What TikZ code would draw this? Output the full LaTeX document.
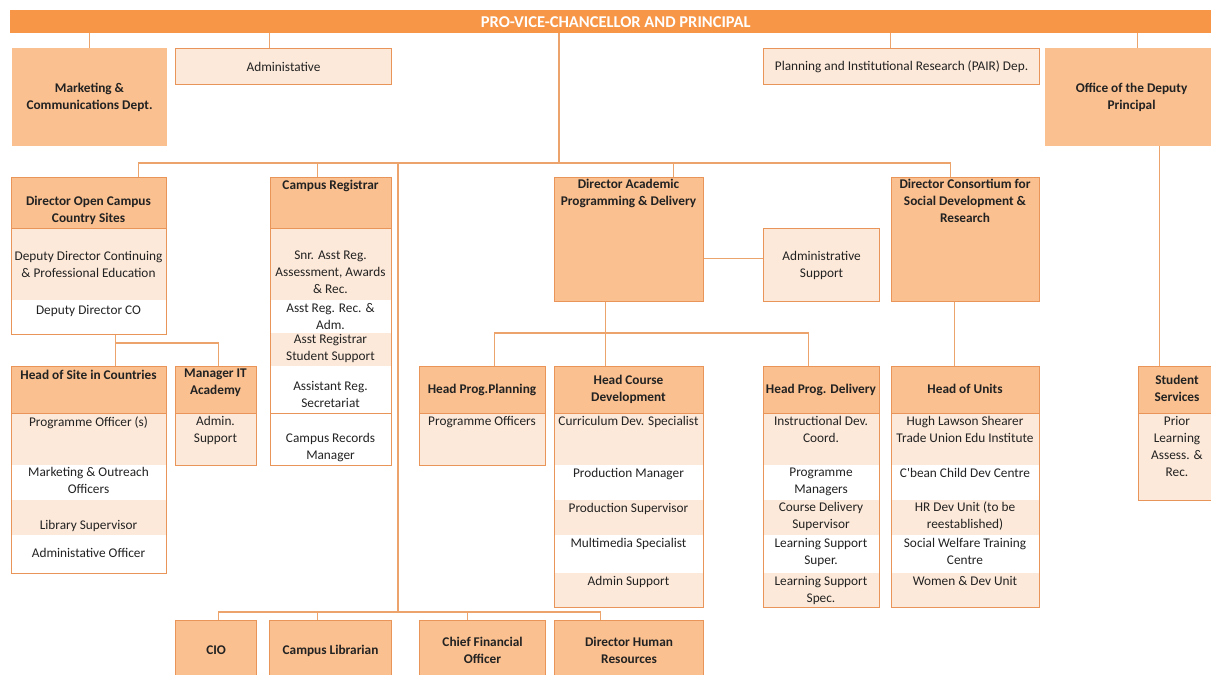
\documentclass[tikz,border=0pt]{standalone}
\usepackage{fontspec}
\setmainfont{Carlito}
\usetikzlibrary{calc}
\definecolor{barfill}{HTML}{F79646}
\definecolor{hdrfill}{HTML}{FAC090}
\definecolor{rowfill}{HTML}{FDE9D9}
\definecolor{edge}{HTML}{E9955A}
\definecolor{linkc}{HTML}{EDA46C}
\definecolor{ink}{HTML}{222222}

\begin{document}
\begin{tikzpicture}[x=1pt,y=-1pt,
		frame/.style={draw=edge,line width=1.1pt,anchor=north west,inner sep=0pt},
		solidbox/.style={frame,fill=hdrfill,align=center,text=ink,font=\fontsize{13.3}{17}\selectfont\bfseries},
		lightbox/.style={frame,fill=rowfill,align=center,text=ink,font=\fontsize{13.3}{17}\selectfont},
		hdr/.style={fill=hdrfill},
		row/.style={fill=rowfill},
		sep/.style={draw=edge,line width=0.8pt},
		lbl/.style={anchor=north,align=center,inner sep=0pt,text=ink,font=\fontsize{13.3}{17}\selectfont},
		head/.style={lbl,font=\fontsize{13.3}{17}\selectfont\bfseries},
		link/.style={draw=linkc,line width=1.4pt}]
	\useasboundingbox (0,0) rectangle (1211,675);
	\clip (0,0) rectangle (1211,675);

	% top level
	\node[anchor=north west,fill=barfill,minimum width=1211,minimum height=23,inner sep=0pt,
		text=white,font=\fontsize{16.5}{17}\selectfont\bfseries] (pvc) at (10,10) {PRO-VICE-CHANCELLOR AND PRINCIPAL};
	\node[solidbox,draw=hdrfill,minimum width=154,minimum height=97] (mkt) at (12,48) {Marketing \&\\Communications Dept.};
	\node[lightbox,minimum width=216,minimum height=36] (adm) at (175,48) {Administative};
	\node[lightbox,minimum width=276,minimum height=36] (pir) at (763,48) {Planning and Institutional Research (PAIR) Dep.};
	\node[solidbox,draw=hdrfill,minimum width=172,minimum height=97] (odp) at (1045,48) {Office of the Deputy\\Principal};

	% director open campus
	\fill[hdr] (11,177) rectangle (166,228);
	\fill[row] (11,228) rectangle (166,300);
	\node[frame,minimum width=155,minimum height=157] (doc) at (11,177) {};
	\draw[sep] (11,228) -- (166,228);
	\node[head] (doc-h) at (88.5,196) {Director Open Campus\\Country Sites};
	\node[lbl] (doc-1) at (88.5,251) {Deputy Director Continuing\\\& Professional Education};
	\node[lbl] (doc-2) at (88.5,305) {Deputy Director CO};

	% campus registrar
	\fill[hdr] (270,177) rectangle (391,228);
	\fill[row] (270,228) rectangle (391,300);
	\fill[row] (270,333) rectangle (391,366);
	\node[frame,minimum width=121,minimum height=288] (reg) at (270,177) {};
	\draw[sep] (270,228) -- (391,228);
	\draw[sep] (270,413) -- (391,413);
	\node[head] (reg-h) at (330.5,180) {Campus Registrar};
	\node[lbl] (reg-1) at (330.5,251) {Snr. Asst Reg.\\Assessment, Awards\\\& Rec.};
	\node[lbl] (reg-2) at (330.5,303) {Asst Reg. Rec. \&\\Adm.};
	\node[lbl] (reg-3) at (330.5,334) {Asst Registrar\\Student Support};
	\node[lbl] (reg-4) at (330.5,381) {Assistant Reg.\\Secretariat};
	\node[lbl] (reg-5) at (330.5,433) {Campus Records\\Manager};

	% academic programming, consortium
	\node[frame,fill=hdrfill,minimum width=149,minimum height=124] (dap) at (554,177) {};
	\node[head] (dap-h) at (628.5,179) {Director Academic\\Programming \& Delivery};
	\node[lightbox,minimum width=116,minimum height=73] (ads) at (763,228) {Administrative\\Support};
	\node[frame,fill=hdrfill,minimum width=148,minimum height=124] (dcs) at (891,177) {};
	\node[head] (dcs-h) at (965,179) {Director Consortium for\\Social Development \&\\Research};

	% head of site
	\fill[hdr] (11,366) rectangle (166,413);
	\fill[row] (11,413) rectangle (166,465);
	\fill[row] (11,500) rectangle (166,535);
	\node[frame,minimum width=155,minimum height=207] (hos) at (11,366) {};
	\draw[sep] (11,413) -- (166,413);
	\node[head] (hos-h) at (88.5,370) {Head of Site in Countries};
	\node[lbl] (hos-1) at (88.5,417) {Programme Officer (s)};
	\node[lbl] (hos-2) at (88.5,467) {Marketing \& Outreach\\Officers};
	\node[lbl] (hos-3) at (88.5,520) {Library Supervisor};
	\node[lbl] (hos-4) at (88.5,548) {Administative Officer};

	% manager IT
	\fill[hdr] (175,366) rectangle (256,413);
	\fill[row] (175,413) rectangle (256,465);
	\node[frame,minimum width=81,minimum height=99] (mit) at (175,366) {};
	\draw[sep] (175,413) -- (256,413);
	\node[head] (mit-h) at (215.5,369) {Manager IT\\Academy};
	\node[lbl] (mit-1) at (215.5,416) {Admin.\\Support};

	% programme planning
	\fill[hdr] (419,366) rectangle (545,413);
	\fill[row] (419,413) rectangle (545,465);
	\node[frame,minimum width=126,minimum height=99] (hpp) at (419,366) {};
	\draw[sep] (419,413) -- (545,413);
	\node[head] (hpp-h) at (482,384) {Head Prog.Planning};
	\node[lbl] (hpp-1) at (482,416) {Programme Officers};

	% course development
	\fill[hdr] (554,366) rectangle (703,413);
	\fill[row] (554,413) rectangle (703,465);
	\fill[row] (554,500) rectangle (703,535);
	\fill[row] (554,573) rectangle (703,607);
	\node[frame,minimum width=149,minimum height=241] (hcd) at (554,366) {};
	\draw[sep] (554,413) -- (703,413);
	\node[head] (hcd-h) at (628.5,375) {Head Course\\Development};
	\node[lbl] (hcd-1) at (628.5,416) {Curriculum Dev. Specialist};
	\node[lbl] (hcd-2) at (628.5,468) {Production Manager};
	\node[lbl] (hcd-3) at (628.5,503) {Production Supervisor};
	\node[lbl] (hcd-4) at (628.5,538) {Multimedia Specialist};
	\node[lbl] (hcd-5) at (628.5,576) {Admin Support};

	% programme delivery
	\fill[hdr] (763,366) rectangle (879,413);
	\fill[row] (763,413) rectangle (879,465);
	\fill[row] (763,500) rectangle (879,535);
	\fill[row] (763,573) rectangle (879,607);
	\node[frame,minimum width=116,minimum height=241] (hpd) at (763,366) {};
	\draw[sep] (763,413) -- (879,413);
	\node[head] (hpd-h) at (821,384) {Head Prog. Delivery};
	\node[lbl] (hpd-1) at (821,416) {Instructional Dev.\\Coord.};
	\node[lbl] (hpd-2) at (821,468) {Programme\\Managers};
	\node[lbl] (hpd-3) at (821,502) {Course Delivery\\Supervisor};
	\node[lbl] (hpd-4) at (821,538) {Learning Support\\Super.};
	\node[lbl] (hpd-5) at (821,576) {Learning Support\\Spec.};

	% head of units
	\fill[hdr] (891,366) rectangle (1039,413);
	\fill[row] (891,413) rectangle (1039,465);
	\fill[row] (891,500) rectangle (1039,535);
	\fill[row] (891,573) rectangle (1039,607);
	\node[frame,minimum width=148,minimum height=241] (hou) at (891,366) {};
	\draw[sep] (891,413) -- (1039,413);
	\node[head] (hou-h) at (965,384) {Head of Units};
	\node[lbl] (hou-1) at (965,416) {Hugh Lawson Shearer\\Trade Union Edu Institute};
	\node[lbl] (hou-2) at (965,468) {C\textquotesingle bean Child Dev Centre};
	\node[lbl] (hou-3) at (965,502) {HR Dev Unit (to be\\reestablished)};
	\node[lbl] (hou-4) at (965,538) {Social Welfare Training\\Centre};
	\node[lbl] (hou-5) at (965,576) {Women \& Dev Unit};

	% student services
	\fill[hdr] (1138,366) rectangle (1220,413);
	\fill[row] (1138,413) rectangle (1220,500);
	\node[frame,minimum width=82,minimum height=134] (sts) at (1138,366) {};
	\draw[sep] (1138,413) -- (1220,413);
	\node[head] (sts-h) at (1177,375) {Student\\Services};
	\node[lbl] (sts-1) at (1177,416) {Prior\\Learning\\Assess. \&\\Rec.};

	% bottom row
	\node[solidbox,minimum width=81,minimum height=60] (cio) at (175,620) {CIO};
	\node[solidbox,minimum width=122,minimum height=60] (lib) at (269,620) {Campus Librarian};
	\node[solidbox,minimum width=126,minimum height=60] (cfo) at (419,620) {Chief Financial\\Officer};
	\node[solidbox,minimum width=149,minimum height=60] (dhr) at (554,620) {Director Human\\Resources};

	% connectors
	\coordinate (bus) at (559,163);
	\coordinate (low) at (398,612);
	\coordinate (mid) at (605,333);
	\coordinate (site) at (115,343);
	\draw[link] (mkt.north) -- (mkt.north |- pvc.south);
	\draw[link] ([xshift=-14pt]adm.north) -- ([xshift=-14pt]adm.north |- pvc.south);
	\draw[link] ([xshift=-11pt]pir.north) -- ([xshift=-11pt]pir.north |- pvc.south);
	\draw[link] ([xshift=6pt]odp.north) -- ([xshift=6pt]odp.north |- pvc.south);
	\draw[link] (bus |- pvc.south) -- (bus);
	\draw[link] ([xshift=49.5pt]doc.north) |- (bus) -| ([xshift=-15pt]dcs.north);
	\draw[link] ([xshift=-13.5pt]reg.north) -- ([xshift=-13.5pt]reg.north |- bus);
	\draw[link] ([xshift=44.5pt]dap.north) -- ([xshift=44.5pt]dap.north |- bus);
	\draw[link] (low |- bus) -- (low);
	\draw[link] ([xshift=2.5pt]cio.north) |- (low) -| ([xshift=-28.5pt]dhr.north);
	\draw[link] ([xshift=-13pt]lib.north) -- ([xshift=-13pt]lib.north |- low);
	\draw[link] ([xshift=-15pt]cfo.north) -- ([xshift=-15pt]cfo.north |- low);
	\draw[link] ([yshift=6.5pt]ads.west) -- ([yshift=6.5pt]ads.west -| dap.east);
	\draw[link] ([xshift=-23.5pt]dap.south) -- ([xshift=-23.5pt]hcd.north);
	\draw[link] ([xshift=12pt]hpp.north) |- (mid) -| ([xshift=-13pt]hpd.north);
	\draw[link] ([xshift=-11pt]dcs.south) -- ([xshift=-11pt]hou.north);
	\draw[link] ([xshift=26.5pt]doc.south) -- ([xshift=26.5pt]hos.north);
	\draw[link] (site) -| ([xshift=2.5pt]mit.north);
	\draw[link] ([xshift=28pt]odp.south) -- ([xshift=28pt]odp.south |- sts.north);
\end{tikzpicture}
\end{document}
